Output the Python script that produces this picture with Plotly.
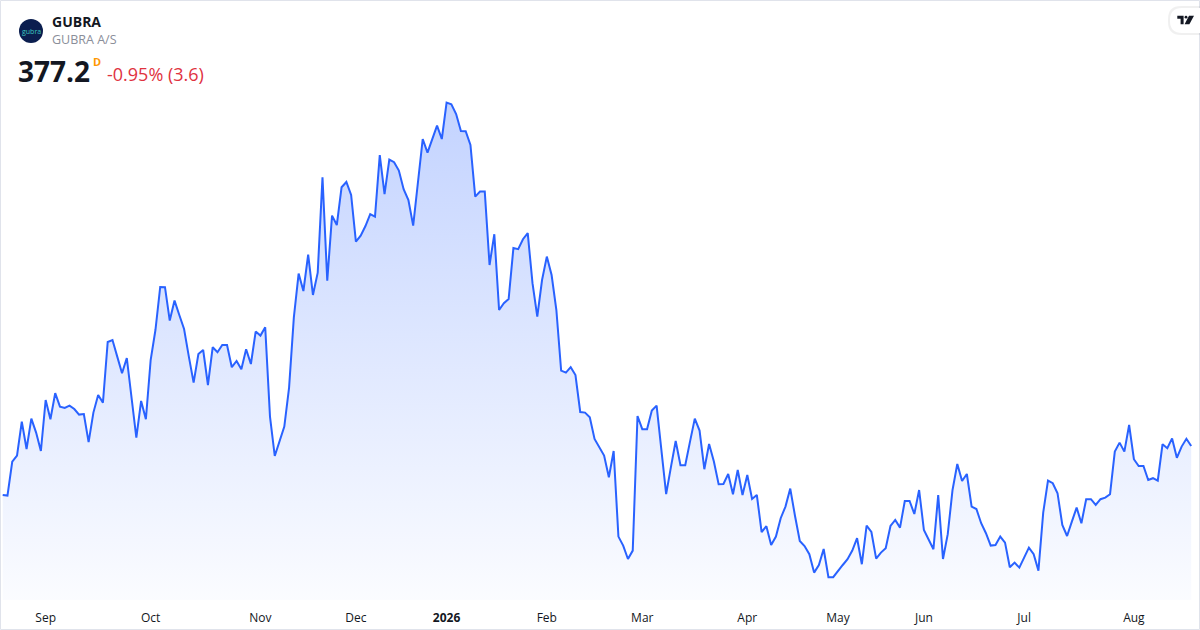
import plotly.graph_objects as go
import pandas as pd

# Danish exchange holidays inside the window (no bars on these days)
holidays = ["2025-12-24", "2025-12-25", "2025-12-26", "2025-12-31", "2026-01-01",
            "2026-04-02", "2026-04-03", "2026-04-06", "2026-05-14", "2026-05-15",
            "2026-05-25", "2026-06-05"]
dates = pd.bdate_range("2025-08-19", "2026-08-19", freq="C", holidays=holidays)
dates = [d.strftime("%Y-%m-%d") for d in dates]

# daily close, GUBRA A/S (DKK)
close = [
    352.7, 352.4, 369.4, 372.4, 389.4, 375.7, 390.9, 383.9, 374.7, 400.2,
    390.6, 403.6, 396.9, 396.2, 397.4, 395.7, 392.9, 393.2, 379.1, 393.9,
    402.7, 398.9, 429.2, 430.2, 421.9, 413.6, 421.2, 401.9, 381.4, 399.7,
    390.6, 420.2, 435.2, 456.7, 456.6, 439.9, 449.9, 442.7, 435.7, 421.9,
    408.9, 423.2, 425.2, 407.7, 426.6, 424.1, 427.7, 427.7, 416.6, 419.7,
    415.6, 425.6, 418.2, 434.4, 432.4, 436.6, 391.9, 372.2, 379.4, 386.9,
    406.4, 441.5, 463.4, 454.7, 472.9, 452.7, 463.9, 511.6, 459.9, 492.4,
    487.7, 506.6, 509.2, 502.7, 479.4, 482.4, 487.2, 493.1, 491.9, 522.6,
    503.1, 520.4, 519.1, 514.9, 505.6, 500.2, 487.4, 510.2, 530.7, 523.9,
    530.6, 537.4, 530.7, 548.9, 548.1, 543.2, 534.7, 534.6, 527.7, 501.9,
    504.4, 504.4, 467.7, 483.1, 445.2, 448.6, 450.7, 476.2, 475.6, 480.6,
    483.6, 458.6, 441.9, 460.2, 471.9, 462.7, 445.2, 414.9, 413.9, 416.6,
    412.7, 394.2, 393.9, 391.6, 380.7, 376.4, 372.4, 361.6, 374.7, 331.9,
    327.4, 320.7, 324.9, 392.2, 385.6, 385.6, 394.9, 397.4, 375.2, 353.1,
    366.6, 379.7, 367.6, 367.6, 379.4, 390.9, 384.9, 365.6, 378.2, 369.4,
    358.1, 358.2, 363.2, 353.1, 365.2, 352.7, 362.7, 350.7, 352.7, 334.1,
    337.1, 327.7, 331.9, 341.1, 346.9, 355.9, 342.2, 329.7, 327.2, 323.1,
    313.9, 317.7, 325.7, 311.6, 311.6, 314.9, 317.7, 320.6, 324.9, 331.1,
    318.1, 337.4, 334.2, 320.9, 323.9, 326.1, 337.2, 340.2, 336.4, 349.7,
    349.7, 343.2, 355.2, 335.2, 330.2, 325.6, 352.7, 320.7, 333.1, 355.2,
    368.2, 359.7, 363.2, 346.9, 345.7, 338.6, 333.6, 327.4, 327.7, 331.9,
    328.9, 316.6, 318.9, 316.4, 321.4, 326.4, 323.1, 314.9, 343.9, 359.9,
    358.6, 353.6, 337.7, 332.2, 339.4, 346.4, 338.6, 350.6, 350.6, 347.7,
    350.6, 351.4, 353.1, 374.4, 378.9, 374.4, 387.7, 370.6, 367.2, 367.2,
    360.2, 361.1, 359.9, 378.1, 376.1, 381.0, 371.3, 376.9, 380.8, 377.2,
]
assert len(close) == len(dates)

tick_labels = ["Sep", "Oct", "Nov", "Dec", "<b>2026</b>", "Feb", "Mar", "Apr",
               "May", "Jun", "Jul", "Aug"]
# first trading day of each month
month_firsts = []
seen = set()
for d in dates:
    if d[:7] not in seen:
        seen.add(d[:7])
        month_firsts.append(d)
tick_vals = month_firsts[1:]

W, H = 1200, 630
ML, MR, MT, MB = 0, 4, 0, 30
PW, PH = W - ML - MR, H - MT - MB
Y_LO, Y_HI = 300.2, 600.2
BAR = 4.773  # px per bar


def px(x):
    return (x - ML) / PW


def py(y):
    return 1 - (y - MT) / PH


fig = go.Figure()
fig.add_trace(go.Scatter(
    x=dates, y=close, mode="lines",
    line=dict(color="#2962FF", width=2),
    fill="tozeroy",
    fillgradient=dict(type="vertical", start=Y_LO, stop=max(close),
                      colorscale=[[0, "rgba(41,98,255,0.02)"],
                                  [1, "rgba(41,98,255,0.28)"]]),
    hoverinfo="skip",
))

shapes = []
# widget border
shapes.append(dict(type="rect", xref="paper", yref="paper",
                   x0=px(0.5), x1=px(1199.5), y0=py(629.5), y1=py(0.5),
                   line=dict(color="#E0E3EB", width=1), fillcolor="rgba(0,0,0,0)",
                   layer="above"))
# logo circle
shapes.append(dict(type="circle", xref="paper", yref="paper",
                   x0=px(19), x1=px(43), y0=py(43), y1=py(19),
                   line=dict(color="#0B1E4F", width=0), fillcolor="#0B1E4F"))


def rounded(x0, y0, x1, y1, r):
    p = f"M {px(x0 + r)},{py(y0)} L {px(x1 - r)},{py(y0)} Q {px(x1)},{py(y0)} {px(x1)},{py(y0 + r)} "
    p += f"L {px(x1)},{py(y1 - r)} Q {px(x1)},{py(y1)} {px(x1 - r)},{py(y1)} "
    p += f"L {px(x0 + r)},{py(y1)} Q {px(x0)},{py(y1)} {px(x0)},{py(y1 - r)} "
    p += f"L {px(x0)},{py(y0 + r)} Q {px(x0)},{py(y0)} {px(x0 + r)},{py(y0)} Z"
    return p


# TradingView badge
shapes.append(dict(type="path", xref="paper", yref="paper",
                   path=rounded(1168, 6, 1214, 35, 13),
                   line=dict(width=0), fillcolor="rgba(0,0,0,0.06)"))
shapes.append(dict(type="path", xref="paper", yref="paper",
                   path=rounded(1170, 8, 1212, 33, 12),
                   line=dict(width=0), fillcolor="white"))
tv_parts = [
    [(1177.3, 15.7), (1183.6, 15.7), (1183.6, 24.3), (1180.6, 24.3), (1180.6, 18.7), (1177.3, 18.7)],
    [(1189.0, 15.7), (1194.0, 15.7), (1189.4, 24.3), (1184.6, 24.3)],
]
for part in tv_parts:
    path = "M " + " L ".join(f"{px(a)},{py(b)}" for a, b in part) + " Z"
    shapes.append(dict(type="path", xref="paper", yref="paper", path=path,
                       line=dict(width=0), fillcolor="#131722"))
shapes.append(dict(type="circle", xref="paper", yref="paper",
                   x0=px(1184.6), x1=px(1187.4), y0=py(18.6), y1=py(15.8),
                   line=dict(width=0), fillcolor="#131722"))

annotations = [
    dict(x=px(31), y=py(31.5), text="gubra", font=dict(size=7, color="#3CC8C0", family="Open Sans"),
         xanchor="center", yanchor="middle"),
    dict(x=px(50), y=py(21), text="<b>GUBRA</b>", font=dict(size=14, color="#131722", family="Open Sans"),
         xanchor="left", yanchor="middle"),
    dict(x=px(50), y=py(40), text="GUBRA A/S", font=dict(size=12.5, color="#8A8E99", family="Open Sans"),
         xanchor="left", yanchor="middle"),
    dict(x=px(16), y=py(71), text="<b>377.2</b>", font=dict(size=28, color="#131722", family="Open Sans"),
         xanchor="left", yanchor="middle"),
    dict(x=px(91), y=py(61), text="<b>D</b>", font=dict(size=11, color="#FF9800", family="Open Sans"),
         xanchor="left", yanchor="middle"),
    dict(x=px(105), y=py(74.5), text="-0.95% (3.6)", font=dict(size=18, color="#E0323F", family="Open Sans"),
         xanchor="left", yanchor="middle"),
]
for a in annotations:
    a.update(xref="paper", yref="paper", showarrow=False)

x_lo = -2.7 / BAR
fig.update_layout(
    width=W, height=H,
    margin=dict(l=ML, r=MR, t=MT, b=MB),
    paper_bgcolor="white", plot_bgcolor="white",
    showlegend=False,
    font=dict(family="Open Sans", color="#131722"),
    shapes=shapes, annotations=annotations,
    xaxis=dict(type="category", range=[x_lo, x_lo + PW / BAR],
               tickvals=tick_vals, ticktext=tick_labels,
               showgrid=False, zeroline=False, showline=False, ticks="",
               ticklabelstandoff=9,
               tickfont=dict(size=12, color="#131722", family="Open Sans")),
    yaxis=dict(range=[Y_LO, Y_HI], showgrid=False, zeroline=False,
               showticklabels=False, showline=False, ticks=""),
)

fig.write_html("out.html", config={"displayModeBar": False},
               post_script="document.body.style.margin='0';")
